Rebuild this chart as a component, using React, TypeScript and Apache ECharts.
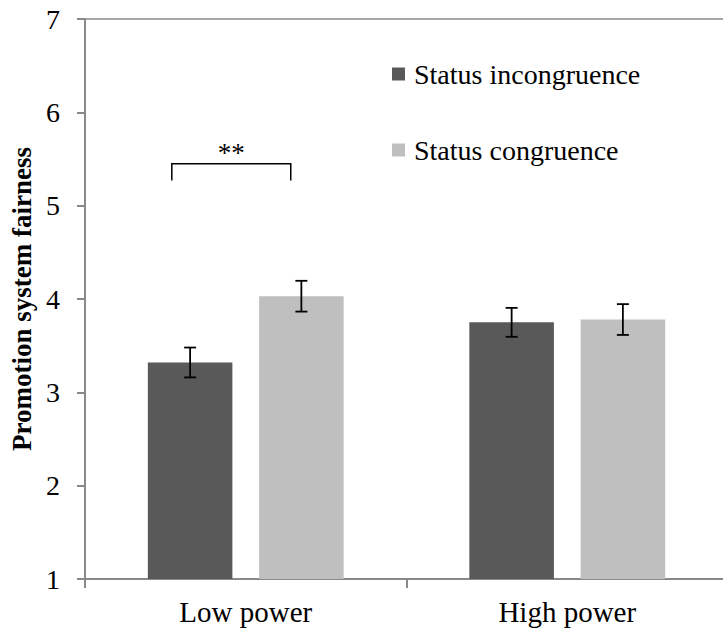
import React, { useEffect, useRef } from "react";
import * as echarts from "echarts";

const categories = ["Low power", "High power"];
const seriesNames = ["Status incongruence", "Status congruence"];
const incongruence = [3.32, 3.75];
const congruence = [4.03, 3.78];
const incongruenceErr = [0.16, 0.155];
const congruenceErr = [0.165, 0.165];
const yMin = 1;
const yMax = 7;
const yInterval = 1;
// significance bracket over "Low power": [leg bottom, top]
const bracketCategory = 0;
const bracketValues = [5.27, 5.45];
const bracketLabel = "**";

const FONT = "Liberation Serif";
const DARK = "#595959";
const LIGHT = "#BFBFBF";
const AXIS = "#898989";

function errorSeries(values: number[], errs: number[], sign: number) {
  return {
    type: "custom",
    silent: true,
    z: 5,
    renderItem: (params: any, api: any) => {
      const cat = api.value(0);
      const lo = api.coord([cat, api.value(1)]);
      const hi = api.coord([cat, api.value(2)]);
      const band = api.size([1, 0])[0];
      const x = lo[0] + sign * band * 0.173;
      const half = 6;
      const st = { stroke: "#000", lineWidth: 1.8 };
      return {
        type: "group",
        children: [
          { type: "line", shape: { x1: x, y1: lo[1], x2: x, y2: hi[1] }, style: st },
          { type: "line", shape: { x1: x - half, y1: lo[1], x2: x + half, y2: lo[1] }, style: st },
          { type: "line", shape: { x1: x - half, y1: hi[1], x2: x + half, y2: hi[1] }, style: st },
        ],
      };
    },
    encode: { x: 0, y: [1, 2] },
    data: values.map((v, i) => [i, v - errs[i], v + errs[i]]),
  };
}

export default function App() {
  const ref = useRef<HTMLDivElement>(null);
  useEffect(() => {
    if (!ref.current) return;
    const chart = echarts.init(ref.current, undefined, { renderer: "svg" });
    chart.setOption({
      animation: false,
      backgroundColor: "#fff",
      textStyle: { fontFamily: FONT },
      grid: {
        left: 85,
        top: 19,
        width: 643,
        height: 560,
        show: false,
        containLabel: false,
        outerBoundsMode: "none",
      },
      legend: {
        data: seriesNames,
        orient: "vertical",
        left: 387,
        top: 55,
        itemWidth: 13,
        itemHeight: 13,
        itemGap: 48,
        icon: "rect",
        selectedMode: false,
        textStyle: { fontSize: 28, color: "#000", fontFamily: FONT, padding: [0, 0, 0, 4] },
      },
      xAxis: [
        {
          type: "category",
          data: categories,
          axisLine: { show: true, lineStyle: { color: AXIS, width: 2 } },
          axisTick: { show: true, length: 9, alignWithLabel: false, lineStyle: { color: AXIS, width: 2 } },
          axisLabel: { fontSize: 29, color: "#000", fontFamily: FONT, margin: 18 },
          splitLine: { show: false },
        },
        {
          type: "category",
          position: "top",
          data: categories,
          axisLine: { show: true, onZero: false, lineStyle: { color: AXIS, width: 1.5 } },
          axisTick: { show: false },
          axisLabel: { show: false },
          splitLine: { show: false },
        },
      ],
      yAxis: {
        type: "value",
        min: yMin,
        max: yMax,
        interval: yInterval,
        name: "Promotion system fairness",
        nameLocation: "middle",
        nameGap: 42,
        nameTextStyle: { fontSize: 27, fontWeight: "bold", color: "#000", fontFamily: FONT },
        axisLine: { show: true, lineStyle: { color: AXIS, width: 2 } },
        axisTick: { show: true, length: 8, lineStyle: { color: AXIS, width: 2 } },
        axisLabel: { fontSize: 28, color: "#000", fontFamily: FONT, margin: 25 },
        splitLine: { show: false },
      },
      series: [
        {
          name: seriesNames[0],
          type: "bar",
          data: incongruence,
          barWidth: "26.3%",
          barGap: "31.6%",
          itemStyle: { color: DARK },
        },
        {
          name: seriesNames[1],
          type: "bar",
          data: congruence,
          barWidth: "26.3%",
          barGap: "31.6%",
          itemStyle: { color: LIGHT },
        },
        errorSeries(incongruence, incongruenceErr, -1),
        errorSeries(congruence, congruenceErr, 1),
        {
          type: "custom",
          silent: true,
          z: 5,
          renderItem: (params: any, api: any) => {
            const cat = api.value(0);
            const bot = api.coord([cat, api.value(1)]);
            const top = api.coord([cat, api.value(2)]);
            const band = api.size([1, 0])[0];
            const xL = bot[0] - band * 0.23;
            const xR = bot[0] + band * 0.14;
            return {
              type: "group",
              children: [
                {
                  type: "polyline",
                  shape: { points: [[xL, bot[1]], [xL, top[1]], [xR, top[1]], [xR, bot[1]]] },
                  style: { stroke: "#000", lineWidth: 1.5, fill: "none" },
                },
                {
                  type: "text",
                  style: {
                    text: bracketLabel,
                    x: (xL + xR) / 2,
                    y: top[1] + 3,
                    align: "center",
                    verticalAlign: "bottom",
                    fontSize: 27,
                    fontFamily: FONT,
                    fill: "#000",
                  },
                },
              ],
            };
          },
          encode: { x: 0, y: [1, 2] },
          data: [[bracketCategory, bracketValues[0], bracketValues[1]]],
        },
      ],
    });
    return () => chart.dispose();
  }, []);
  return (
    <div
      ref={ref}
      style={{ position: "fixed", left: 0, top: 0, width: 723, height: 634, background: "#fff" }}
    />
  );
}
